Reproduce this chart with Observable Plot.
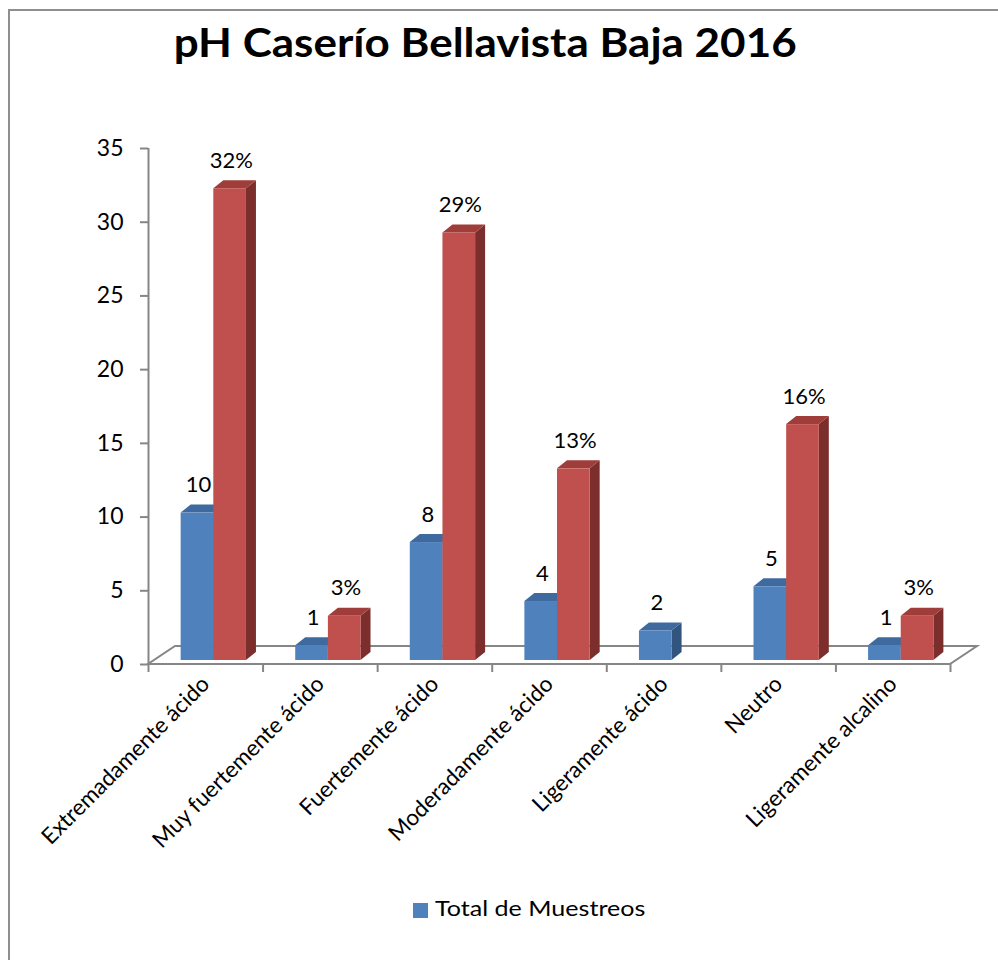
<!DOCTYPE html>
<html>
<head>
<meta charset="utf-8">
<script src="https://cdn.jsdelivr.net/npm/d3@7"></script>
<script src="https://cdn.jsdelivr.net/npm/@observablehq/plot@0.6"></script>
<style>
  body { margin: 0; background: #fff; }
  #wrap { position: relative; width: 998px; height: 960px; overflow: hidden; background: #fff; font-family: Lato, "Open Sans", sans-serif; }
  #frame { position: absolute; left: 8px; top: 9px; width: 1200px; height: 1200px; border-left: 2px solid #8f8f8f; border-top: 2px solid #8f8f8f; }
  #title { position: absolute; top: 18px; left: 0; width: 971px; text-align: center; color: #000; }
  #title span { display: inline-block; font-weight: bold; font-size: 40px; transform: scaleX(1.1); white-space: nowrap; }
  #chart { position: absolute; left: 0; top: 0; }
  #legend-sw { position: absolute; left: 413px; top: 903px; width: 15px; height: 15px; background: #4F81BD; }
  #legend-tx { position: absolute; left: 435px; top: 897px; font-size: 22px; line-height: 22px; color: #000; transform: scaleX(1.14); transform-origin: 0 0; white-space: nowrap; }
</style>
</head>
<body>
<div id="wrap">
  <div id="frame"></div>
  <div id="chart"></div>
  <div id="title"><span>pH Caserío Bellavista Baja 2016</span></div>
  <div id="legend-sw"></div>
  <div id="legend-tx">Total de Muestreos</div>
</div>
<script>
// ---- data ----
const categories = [
  "Extremadamente ácido",
  "Muy fuertemente ácido",
  "Fuertemente ácido",
  "Moderadamente ácido",
  "Ligeramente ácido",
  "Neutro",
  "Ligeramente alcalino"
];
const totalMuestreos = [10, 1, 8, 4, 2, 5, 1];
const porcentaje = [32, 3, 29, 13, null, 16, 3];
const yTicks = [0, 5, 10, 15, 20, 25, 30, 35];

// ---- styling / layout ----
const palette = {
  blue: { front: "#4F81BD", top: "#3F6A9F", side: "#31557F" },
  red:  { front: "#C0504D", top: "#9E3D3A", side: "#7C2E2C" }
};
const depth = { dx: 10, dy: -8 };      // bar depth
const lift = -4;                       // bars sit inside the floor
const floorDepth = { dx: 27, dy: -18 };
const axisGray = "#868686";

const blueRows = categories.map((c, i) => ({ i, cat: c, value: totalMuestreos[i], label: String(totalMuestreos[i]) }));
const redRows = categories.map((c, i) => ({ i, cat: c, value: porcentaje[i], label: porcentaje[i] == null ? null : porcentaje[i] + "%" }))
  .filter(d => d.value != null);

const blueSlot = [0.285, 0.57];
const redSlot = [0.57, 0.855];

function bar3d(data, slot, colors) {
  return Plot.rect(data, {
    x1: d => d.i + slot[0],
    x2: d => d.i + slot[1],
    y1: () => 0,
    y2: "value",
    render(index, scales, values) {
      const { x1: X1, x2: X2, y1: Y1, y2: Y2 } = values;
      const g = d3.create("svg:g");
      for (const k of index) {
        const x1 = X1[k], x2 = X2[k], yb = Y1[k] + lift, yt = Y2[k] + lift;
        const { dx, dy } = depth;
        g.append("polygon").attr("fill", colors.side)
          .attr("points", [[x2, yt], [x2 + dx, yt + dy], [x2 + dx, yb + dy], [x2, yb]].join(" "));
        g.append("polygon").attr("fill", colors.top)
          .attr("points", [[x1, yt], [x1 + dx, yt + dy], [x2 + dx, yt + dy], [x2, yt]].join(" "));
        g.append("rect").attr("fill", colors.front)
          .attr("x", x1).attr("y", yt).attr("width", x2 - x1).attr("height", yb - yt);
      }
      return g.node();
    }
  });
}

function floorMark() {
  return Plot.ruleY([0], {
    render(index, scales) {
      const x0 = scales.x(0), x1 = scales.x(categories.length), y0 = scales.y(0);
      const { dx, dy } = floorDepth;
      const g = d3.create("svg:g");
      g.append("polygon")
        .attr("fill", "#fff").attr("stroke", axisGray).attr("stroke-width", 2)
        .attr("points", [[x0, y0], [x1, y0], [x1 + dx, y0 + dy], [x0 + dx, y0 + dy]].join(" "));
      return g.node();
    }
  });
}

const chart = Plot.plot({
  width: 998,
  height: 960,
  marginLeft: 148,
  marginRight: 48,
  marginTop: 148,
  marginBottom: 296,
  style: { fontFamily: "Lato, 'Open Sans', sans-serif", fontSize: "20px", color: "#000", background: "transparent" },
  x: { type: "linear", domain: [0, categories.length], axis: null, label: null },
  y: { domain: [0, 35], axis: null, label: null },
  marks: [
    floorMark(),
    Plot.ruleX([0], { y1: 0, y2: 35, stroke: axisGray, strokeWidth: 2 }),
    Plot.axisY({ ticks: yTicks, label: null, tickSize: 8, tickPadding: 17, stroke: axisGray, strokeWidth: 2, fontSize: 23, tickFormat: d => String(d) }),
    Plot.axisX({ ticks: d3.range(categories.length + 1), label: null, tickSize: 8, stroke: axisGray, strokeWidth: 2, tickFormat: () => "" }),
    Plot.axisX({
      ticks: d3.range(categories.length).map(i => i + 0.5),
      label: null,
      tickSize: 0,
      tickPadding: 16,
      tickRotate: -45,
      textAnchor: "end",
      fontSize: 22.5,
      tickFormat: d => categories[Math.floor(d)]
    }),
    bar3d(blueRows, blueSlot, palette.blue),
    bar3d(redRows, redSlot, palette.red),
    Plot.text(blueRows, { x: d => d.i + (blueSlot[0] + blueSlot[1]) / 2 + 0.01, y: "value", text: "label", dy: -32, fontSize: 22, fill: "#000" }),
    Plot.text(redRows, { x: d => d.i + (redSlot[0] + redSlot[1]) / 2 + 0.01, y: "value", text: "label", dy: -32, fontSize: 22, fill: "#000" })
  ]
});
document.getElementById("chart").appendChild(chart);
</script>
</body>
</html>
